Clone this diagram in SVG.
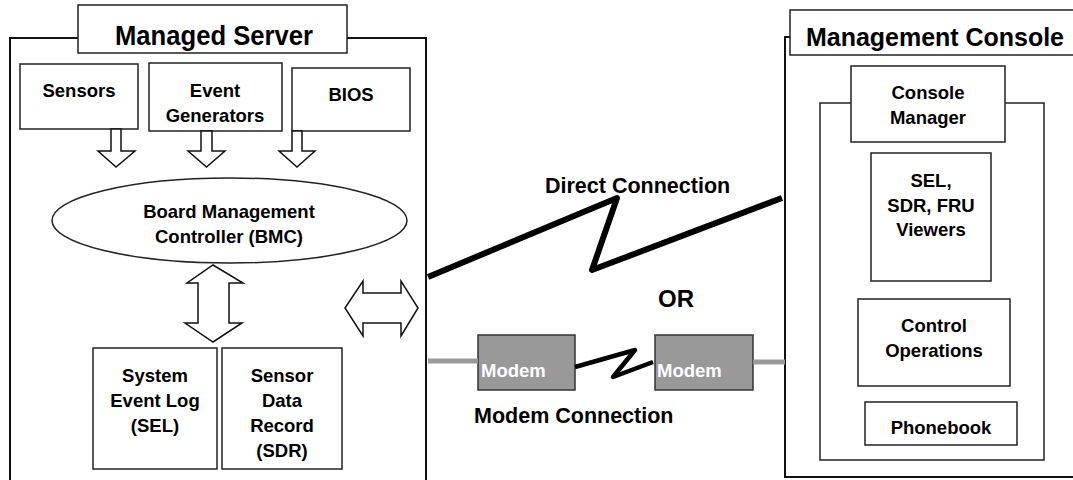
<svg xmlns="http://www.w3.org/2000/svg" width="1073" height="480" viewBox="0 0 1073 480">
<style>
.t{font-family:"Liberation Sans",Arial,sans-serif;font-weight:bold;fill:#000;}
.c{text-anchor:middle;}
.b{font-size:18.5px;}
.box{fill:#fff;stroke:#222;stroke-width:1.5;}
.frame{fill:none;stroke:#111;stroke-width:2;}
.arr{fill:#fff;stroke:#111;stroke-width:1.5;stroke-linejoin:miter;}
.modem{fill:#999;stroke:#333;stroke-width:1.5;}
.mt{fill:#fff;font-size:18.5px;}
</style>
<rect width="1073" height="480" fill="#fff"/>

<g id="managed-server">
  <path class="frame" d="M10,490 V38 H426 V490"/>
  <rect class="box" x="78" y="5" width="269" height="48" stroke-width="2"/>
  <text class="t" x="115" y="45" font-size="27.5" textLength="198" lengthAdjust="spacingAndGlyphs">Managed Server</text>
</g>

<g id="sensors">
  <rect class="box" x="20" y="64" width="118" height="65"/>
  <text class="t c b" x="79" y="97">Sensors</text>
</g>
<g id="event-generators">
  <rect class="box" x="149" y="63" width="133" height="68"/>
  <text class="t c b" x="215" y="97">Event</text>
  <text class="t c b" x="215" y="122">Generators</text>
</g>
<g id="bios">
  <rect class="box" x="292" y="68" width="118" height="63"/>
  <text class="t c b" x="351" y="101">BIOS</text>
</g>
<g id="bmc">
  <ellipse class="box" cx="229.5" cy="220.5" rx="177.5" ry="42.5"/>
  <text class="t c b" x="229" y="218">Board Management</text>
  <text class="t c b" x="229" y="243">Controller (BMC)</text>
</g>
<g id="sel">
  <rect class="box" x="93" y="348" width="124" height="121"/>
  <text class="t c b" x="155" y="382">System</text>
  <text class="t c b" x="155" y="407">Event Log</text>
  <text class="t c b" x="155" y="432">(SEL)</text>
</g>
<g id="sdr">
  <rect class="box" x="222" y="348" width="120" height="121"/>
  <text class="t c b" x="282" y="382">Sensor</text>
  <text class="t c b" x="282" y="407">Data</text>
  <text class="t c b" x="282" y="432">Record</text>
  <text class="t c b" x="282" y="457">(SDR)</text>
</g>

<g id="management-console">
  <path class="frame" d="M1080,477 H785 V37 H790"/>
  <path class="box" d="M1080,10 H790 V55 H1080" stroke-width="2"/>
  <text class="t" x="806" y="46" font-size="26.5" textLength="258" lengthAdjust="spacingAndGlyphs">Management Console</text>
  <rect class="box" x="820" y="103" width="224" height="357"/>
</g>
<g id="console-manager">
  <rect class="box" x="851" y="66" width="154" height="76"/>
  <text class="t c b" x="928" y="99">Console</text>
  <text class="t c b" x="928" y="124">Manager</text>
</g>
<g id="viewers">
  <rect class="box" x="871" y="153" width="120" height="128"/>
  <text class="t c b" x="931" y="187">SEL,</text>
  <text class="t c b" x="931" y="212">SDR, FRU</text>
  <text class="t c b" x="931" y="236">Viewers</text>
</g>
<g id="control-operations">
  <rect class="box" x="858" y="299" width="152" height="87"/>
  <text class="t c b" x="934" y="332">Control</text>
  <text class="t c b" x="934" y="357">Operations</text>
</g>
<g id="phonebook">
  <rect class="box" x="865" y="402" width="152" height="43"/>
  <text class="t c b" x="941" y="434">Phonebook</text>
</g>

<g id="modem-left">
  <rect class="modem" x="478" y="335" width="97" height="55"/>
  <text class="t mt" x="481" y="377">Modem</text>
</g>
<g id="modem-right">
  <rect class="modem" x="655" y="335" width="98" height="55"/>
  <text class="t mt" x="657" y="377">Modem</text>
</g>

<g id="connectors">
  <polygon class="arr" points="111,129 121,129 121,151 135,151 116,167 98,151 111,151"/>
  <polygon class="arr" points="201,131 212,131 212,151 225,151 206.5,167 188,151 201,151"/>
  <polygon class="arr" points="292,131 302,131 302,151 315,151 297,167 279,151 292,151"/>
  <polygon class="arr" points="213,265 243,283 229,283 229,323 242,323 213,342 185,323 198,323 198,283 187,283"/>
  <polygon class="arr" points="345,308 363,281 363,293 401,293 401,281 418,308 401,336 401,323 363,323 363,336"/>
  <polyline points="428,277 617,198 592,270 782,198" fill="none" stroke="#000" stroke-width="6" stroke-linejoin="round"/>
  <line x1="428" y1="361" x2="478" y2="361" stroke="#999" stroke-width="5"/>
  <line x1="753" y1="362" x2="785" y2="362" stroke="#999" stroke-width="5"/>
  <polyline points="575,367 635,350 613,377 653,362" fill="none" stroke="#000" stroke-width="4.5" stroke-linejoin="round"/>
</g>

<g id="labels">
  <text class="t" x="545" y="193" font-size="21.5">Direct Connection</text>
  <text class="t" x="658" y="307" font-size="24">OR</text>
  <text class="t" x="474" y="423" font-size="21.5">Modem Connection</text>
</g>
</svg>
